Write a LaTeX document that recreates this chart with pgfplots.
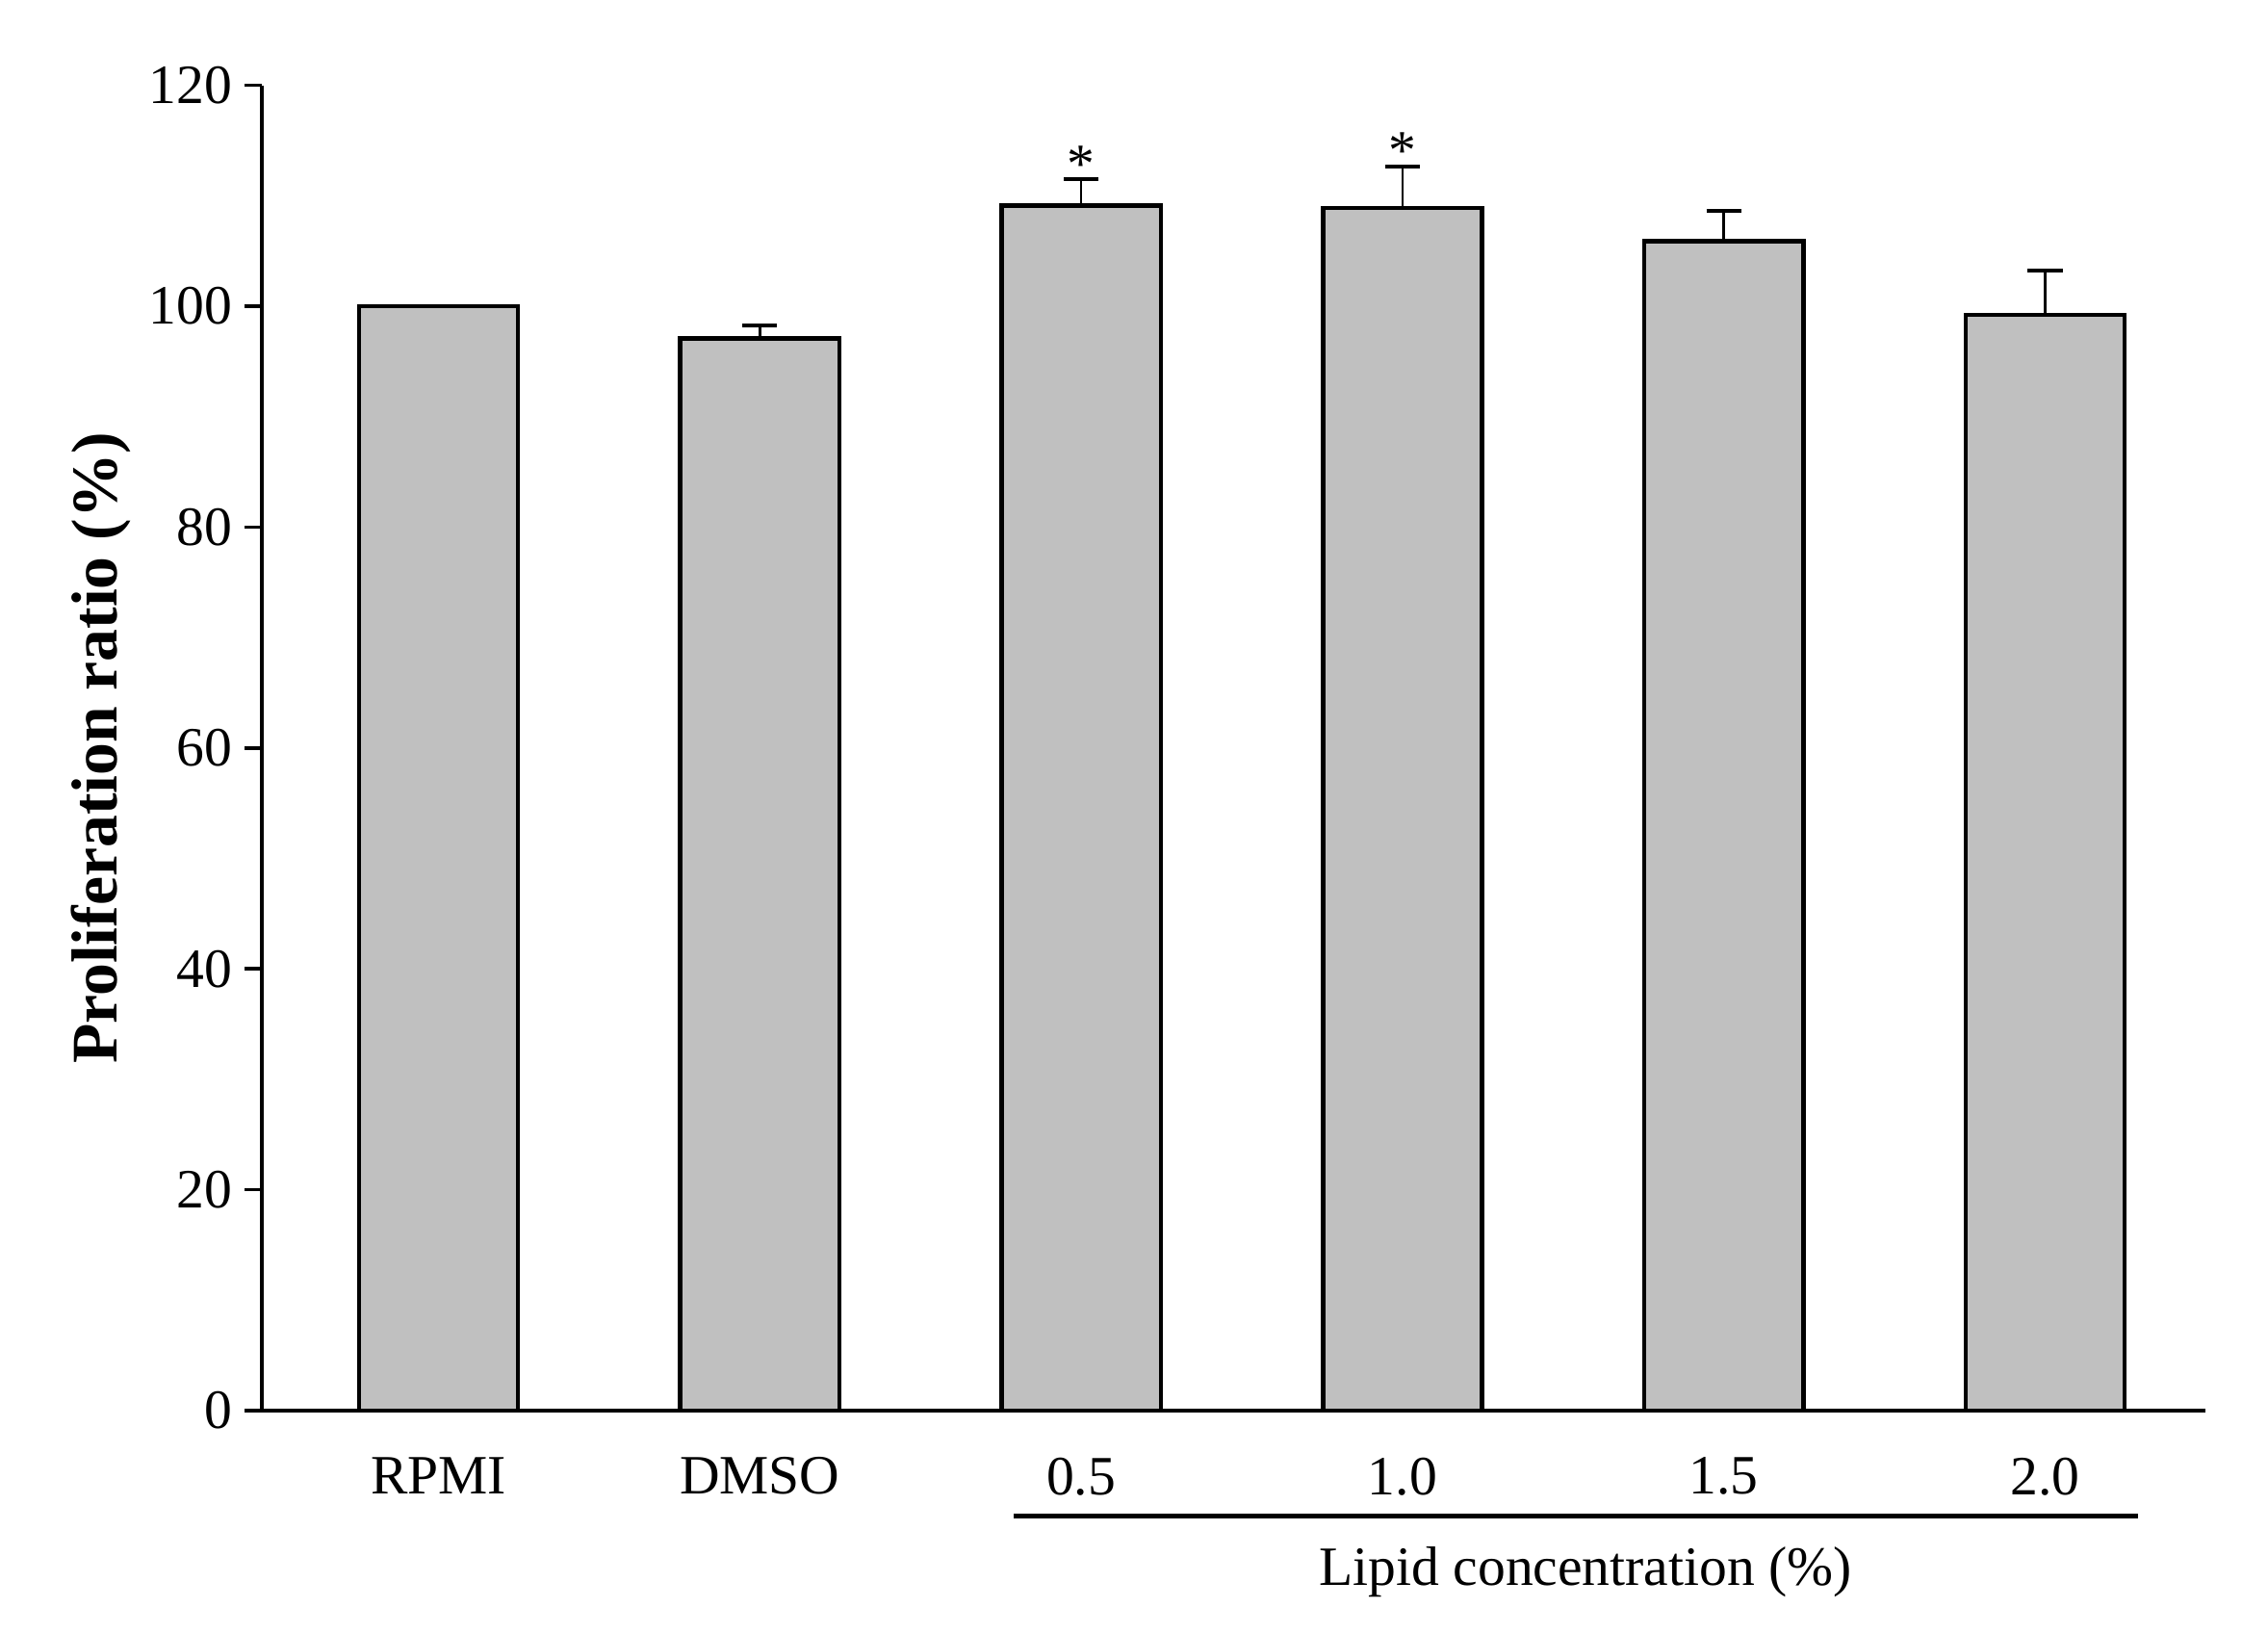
\documentclass[border=0pt]{standalone}
\usepackage{fontspec}
\setmainfont{Liberation Serif}
\usepackage{pgfplots}
\pgfplotsset{compat=1.18}
\definecolor{barfill}{RGB}{192,192,192}
\begin{document}
\begin{tikzpicture}
\path[use as bounding box] (-54.3pt,-46.2pt) rectangle (416.1pt,292.5pt);
\begin{axis}[
  at={(0,0)}, anchor=south west,
  scale only axis, width=403.2pt, height=274.8pt,
  xmin=-0.55, xmax=5.5, ymin=0, ymax=120,
  axis x line*=bottom, axis y line*=left,
  axis line style={-, line width=0.7pt},
  ytick={0,20,...,120},
  xtick={0,1,2,3,4,5},
  xticklabels={RPMI,DMSO,0.5,1.0,1.5,2.0},
  x tick style={draw=none},
  y tick style={line width=0.7pt, black},
  tick align=outside, major tick length=3.6pt,
  /pgf/number format/assume math mode=true,
  tick label style={font=\fontsize{11.5}{13}\selectfont},
  xticklabel style={yshift=-2.6pt},
  yticklabel style={xshift=1pt},
  ylabel={\bfseries Proliferation ratio (\%)},
  every axis y label/.style={at={(axis description cs:0,0.5)}, rotate=90, anchor=center, yshift=33.3pt, font=\fontsize{13.5}{16}\selectfont},
  clip=false,
  ybar, bar width=33pt,
]
\addplot[draw=black, line width=0.9pt, fill=barfill,
  error bars/.cd, y dir=plus, y explicit,
  error bar style={line width=0.5pt, black},
  error mark options={rotate=90, line width=0.8pt, mark size=3.6pt, black}]
  table[x=x, y=y, y error=e] {
x y e
0 100.0 0.0
1 97.1 1.2
2 109.1 2.4
3 108.9 3.7
4 105.9 2.7
5 99.2 4.0
};
\node[anchor=base, font=\fontsize{11.5}{13}\selectfont] at (axis cs:2,111.2) {*};
\node[anchor=base, font=\fontsize{11.5}{13}\selectfont] at (axis cs:3,112.4) {*};
\draw[line width=0.9pt] (axis cs:1.79,-9.56) -- (axis cs:5.29,-9.56);
\node[anchor=center, font=\fontsize{11.5}{13}\selectfont] at (axis cs:3.57,-14.6) {Lipid concentration (\%)};
\end{axis}
\end{tikzpicture}
\end{document}
